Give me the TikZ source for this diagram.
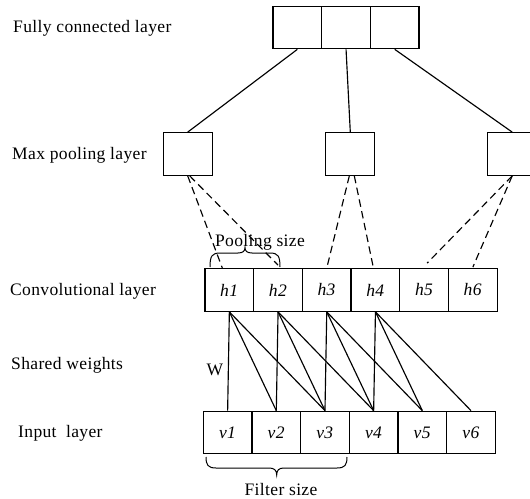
\documentclass[tikz,border=0pt]{standalone}
\usepackage{fontspec}
\setmainfont[LetterSpace=2]{Liberation Serif}
\begin{document}
\begin{tikzpicture}[x=1bp, y=-1bp,
  every node/.style={font=\fontsize{17.6}{20}\selectfont},
  cell/.style={draw, line width=1.25bp, inner sep=0pt, minimum width=48.7bp, minimum height=42.5bp},
  lbl/.style={anchor=west, inner sep=0pt},
  link/.style={line width=1.15bp},
  poollink/.style={line width=1.15bp, dash pattern=on 7.5bp off 4.5bp},
  bracket/.style={line width=1bp}]
\useasboundingbox (0,0) rectangle (530,499);
\clip (0,0) rectangle (530,499);

% layer names
\node[lbl] (tfc)   at (13,28)  {Fully connected layer};
\node[lbl] (tmax)  at (12,155) {Max pooling layer};
\node[lbl] (tconv) at (10,291) {Convolutional layer};
\node[lbl] (tsw)   at (11,365) {Shared weights};
\node[lbl] (tin)   at (18,433) {Input\ \ layer};

% fully connected layer
\node[cell] (f1) at (297.35,27.5) {};
\node[cell] (f2) at (346.05,27.5) {};
\node[cell] (f3) at (394.75,27.5) {};

% max pooling layer
\node[cell, minimum width=49bp] (p1) at (187.7,154) {};
\node[cell, minimum width=49bp] (p2) at (350.3,154) {};
\node[cell, minimum width=49bp] (p3) at (512.2,154) {};

% convolutional layer
\foreach \i in {1,...,6}
  \node[cell] (h\i) at ({205+48.7*(\i-0.5)},290) {\textit{h\i}};

% input layer
\foreach \i in {1,...,6}
  \node[cell] (v\i) at ({203.3+48.67*(\i-0.5)},432.5) {\textit{v\i}};

% pooling to fully connected
\draw[link] (f1.south) -- (p1.north);
\draw[link] (f2.south) -- (p2.north);
\draw[link] (f3.south) -- (p3.north);

% convolution to pooling
\draw[poollink] (p1.south) -- ([xshift=-7bp]h1.north);
\draw[poollink] ([xshift=2bp]p1.south) -- ([yshift=3bp]h2.north);
\draw[poollink] ([xshift=-1bp]p2.south) -- (h3.north);
\draw[poollink] ([xshift=4bp]p2.south) -- ([xshift=-2bp]h4.north);
\draw[poollink] (p3.south) -- ([xshift=3bp, yshift=5bp]h5.north);
\draw[poollink] (p3.south) -- ([yshift=1bp]h6.north);

% shared weights
\foreach \i in {1,...,4} {
  \pgfmathtruncatemacro{\j}{\i+1}
  \pgfmathtruncatemacro{\k}{\i+2}
  \draw[link] (h\i.south) -- (v\i.north);
  \draw[link] (h\i.south) -- (v\j.north);
  \draw[link] (h\i.south) -- (v\k.north);
}
\node (w) at (215,370) {W};

% pooling size brace
\draw[bracket] (210,267) .. controls (210,256) and (212,253) .. (220,253)
  -- (238,253) .. controls (243,253) and (245,251) .. (245,247.5)
  .. controls (245,251) and (247,253) .. (252,253)
  -- (270,253) .. controls (278,253) and (280,256) .. (280,267);
\node (tpool) at (260,242) {Pooling size};

% filter size brace
\draw[bracket] (206,457) .. controls (206,465) and (208,468) .. (216,468)
  -- (269,468) .. controls (274,468) and (276.7,470) .. (276.7,475)
  .. controls (276.7,470) and (279,468) .. (284,468)
  -- (337,468) .. controls (345,468) and (347,465) .. (347,457);
\node (tfilter) at (281,489) {Filter size};
\end{tikzpicture}
\end{document}
